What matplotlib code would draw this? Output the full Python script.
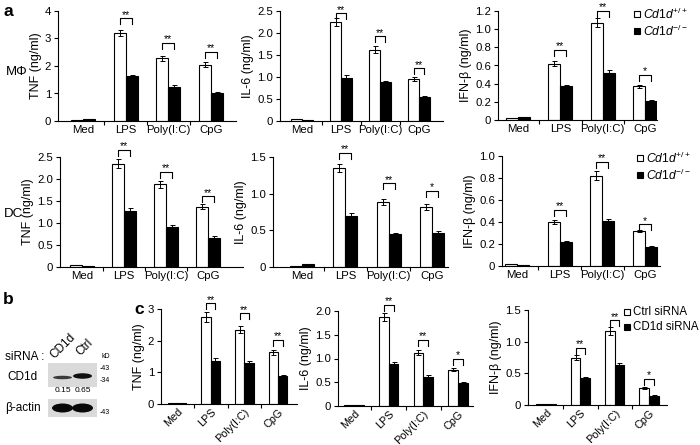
import numpy as np
import matplotlib
matplotlib.use("Agg")
import matplotlib.pyplot as plt
from matplotlib.patches import Rectangle, Ellipse
from matplotlib.lines import Line2D

plt.rcParams['font.family'] = ['Liberation Sans', 'DejaVu Sans']
plt.rcParams['mathtext.fontset'] = 'custom'
plt.rcParams['mathtext.rm'] = 'Liberation Sans'
plt.rcParams['mathtext.it'] = 'Liberation Sans:italic'
plt.rcParams['axes.linewidth'] = 0.8

# ---------------- data ----------------
categories = ["Med", "LPS", "Poly(I:C)", "CpG"]

# panel a, macrophages (MΦ)
mf_tnf_wt = [0.05, 3.20, 2.28, 2.05]; mf_tnf_wt_err = [0.0, 0.12, 0.10, 0.08]
mf_tnf_ko = [0.06, 1.62, 1.25, 1.02]; mf_tnf_ko_err = [0.0, 0.07, 0.05, 0.03]
mf_il6_wt = [0.05, 2.25, 1.62, 0.95]; mf_il6_wt_err = [0.0, 0.10, 0.08, 0.05]
mf_il6_ko = [0.02, 0.98, 0.88, 0.55]; mf_il6_ko_err = [0.0, 0.07, 0.04, 0.02]
mf_ifn_wt = [0.02, 0.62, 1.07, 0.37]; mf_ifn_wt_err = [0.0, 0.03, 0.05, 0.015]
mf_ifn_ko = [0.03, 0.37, 0.52, 0.21]; mf_ifn_ko_err = [0.0, 0.015, 0.03, 0.012]

# panel a, dendritic cells (DC)
dc_tnf_wt = [0.04, 2.35, 1.88, 1.37]; dc_tnf_wt_err = [0.0, 0.10, 0.08, 0.06]
dc_tnf_ko = [0.03, 1.28, 0.90, 0.67]; dc_tnf_ko_err = [0.0, 0.07, 0.05, 0.03]
dc_il6_wt = [0.02, 1.35, 0.89, 0.82]; dc_il6_wt_err = [0.0, 0.06, 0.04, 0.04]
dc_il6_ko = [0.04, 0.69, 0.45, 0.46]; dc_il6_ko_err = [0.0, 0.04, 0.02, 0.03]
dc_ifn_wt = [0.02, 0.40, 0.82, 0.32]; dc_ifn_wt_err = [0.0, 0.02, 0.04, 0.01]
dc_ifn_ko = [0.01, 0.22, 0.41, 0.17]; dc_ifn_ko_err = [0.0, 0.01, 0.02, 0.01]

# panel c, siRNA
si_tnf_ctrl = [0.04, 2.75, 2.35, 1.63]; si_tnf_ctrl_err = [0.0, 0.15, 0.12, 0.08]
si_tnf_cd1d = [0.03, 1.37, 1.30, 0.88]; si_tnf_cd1d_err = [0.0, 0.07, 0.05, 0.05]
si_il6_ctrl = [0.02, 1.87, 1.12, 0.76]; si_il6_ctrl_err = [0.0, 0.08, 0.05, 0.03]
si_il6_cd1d = [0.02, 0.89, 0.62, 0.48]; si_il6_cd1d_err = [0.0, 0.04, 0.03, 0.03]
si_ifn_ctrl = [0.02, 0.75, 1.17, 0.27]; si_ifn_ctrl_err = [0.0, 0.04, 0.06, 0.01]
si_ifn_cd1d = [0.01, 0.43, 0.63, 0.15]; si_ifn_cd1d_err = [0.0, 0.02, 0.04, 0.01]

sig_mf_tnf = ["", "**", "**", "**"]
sig_mf_il6 = ["", "**", "**", "**"]
sig_mf_ifn = ["", "**", "**", "*"]
sig_dc_tnf = ["", "**", "**", "**"]
sig_dc_il6 = ["", "**", "**", "*"]
sig_dc_ifn = ["", "**", "**", "*"]
sig_si_tnf = ["", "**", "**", "**"]
sig_si_il6 = ["", "**", "**", "*"]
sig_si_ifn = ["", "**", "**", "*"]

yt_tnf4 = [0, 1, 2, 3, 4]; yl_tnf4 = ["0", "1", "2", "3", "4"]
yt_25 = [0, 0.5, 1.0, 1.5, 2.0, 2.5]; yl_25 = ["0", "0.5", "1.0", "1.5", "2.0", "2.5"]
yt_12 = [0, 0.2, 0.4, 0.6, 0.8, 1.0, 1.2]; yl_12 = ["0", "0.2", "0.4", "0.6", "0.8", "1.0", "1.2"]
yt_15 = [0, 0.5, 1.0, 1.5]; yl_15 = ["0", "0.5", "1.0", "1.5"]
yt_10 = [0, 0.2, 0.4, 0.6, 0.8, 1.0]; yl_10 = ["0", "0.2", "0.4", "0.6", "0.8", "1.0"]
yt_3 = [0, 1, 2, 3]; yl_3 = ["0", "1", "2", "3"]
yt_20 = [0, 0.5, 1.0, 1.5, 2.0]; yl_20 = ["0", "0.5", "1.0", "1.5", "2.0"]

blot_ratio = ["0.15", "0.65"]

# annotation layout: height (data units) of each significance bracket
br_mf_tnf = [0, 3.73, 2.85, 2.52]
br_mf_il6 = [0, 2.45, 1.93, 1.20]
br_mf_ifn = [0, 0.77, 1.20, 0.50]
br_dc_tnf = [0, 2.66, 2.17, 1.61]
br_dc_il6 = [0, 1.56, 1.14, 1.04]
br_dc_ifn = [0, 0.51, 0.95, 0.38]
br_si_tnf = [0, 3.18, 2.86, 2.02]
br_si_il6 = [0, 2.13, 1.39, 0.99]
br_si_ifn = [0, 0.90, 1.34, 0.41]

# ---------------- figure ----------------
W, H = 700, 445
FS = 8.2
FSL = 9
fig = plt.figure(figsize=(W / 100, H / 100), dpi=100)


def make_ax(x0, top, bottom, right, med_px, cpg_px):
    ax = fig.add_axes([x0 / W, 1 - bottom / H, (right - x0) / W, (bottom - top) / H])
    unit = (cpg_px - med_px) / 3.0
    ax.set_xlim(-(med_px - x0) / unit, 3 + (right - cpg_px) / unit)
    return ax


def draw_panel(ax, wt, wt_err, ko, ko_err, sig, brh, yticks, ylabels, ylabel,
               rotate=False):
    x = np.arange(len(categories))
    w = 0.28
    ax.bar(x - w / 2, wt, w, color="white", edgecolor="black", linewidth=0.8, zorder=2)
    ax.bar(x + w / 2, ko, w, color="black", edgecolor="black", linewidth=0.8, zorder=2)
    for xi, v, e in zip(x - w / 2, wt, wt_err):
        if e > 0:
            ax.errorbar(xi, v, yerr=e, color="black", capsize=1.8, lw=0.7, capthick=0.7, zorder=3)
    for xi, v, e in zip(x + w / 2, ko, ko_err):
        if e > 0:
            ax.errorbar(xi, v, yerr=e, color="black", capsize=1.8, lw=0.7, capthick=0.7, zorder=3)
    ymax = yticks[-1]
    ax.set_ylim(0, ymax)
    bbox = ax.get_position()
    px_per_unit = bbox.height * H / ymax
    leg = 6.0 / px_per_unit
    for xi, top, s in zip(x, brh, sig):
        if not s:
            continue
        ax.plot([xi - w / 2, xi - w / 2, xi + w / 2, xi + w / 2],
                [top - leg, top, top, top - leg], color="black", lw=0.8, clip_on=False)
        ax.text(xi, top - 1.5 / px_per_unit, s, ha="center", va="bottom", fontsize=7.5, clip_on=False)
    ax.set_yticks(yticks)
    ax.set_yticklabels(ylabels, fontsize=FS)
    ax.set_ylabel(ylabel, fontsize=FSL, labelpad=2)
    ax.spines["top"].set_visible(False)
    ax.spines["right"].set_visible(False)
    ax.tick_params(axis="y", direction="out", length=3, width=0.8, pad=2)
    ax.set_xticks(x)
    if rotate:
        ax.set_xticklabels(categories, rotation=45, ha="right", rotation_mode="anchor", fontsize=7.8)
        ax.tick_params(axis="x", length=0, pad=2)
    else:
        ax.set_xticklabels(categories, fontsize=FS)
        ax.tick_params(axis="x", length=0, pad=3)
    ax.set_xticks(x[:-1] + 0.5, minor=True)
    ax.tick_params(axis="x", which="minor", direction="out", length=3, width=0.8)


# Row 1 (MΦ)
a = make_ax(58, 11, 121, 236, 83, 211)
draw_panel(a, mf_tnf_wt, mf_tnf_wt_err, mf_tnf_ko, mf_tnf_ko_err, sig_mf_tnf, br_mf_tnf, yt_tnf4, yl_tnf4, "TNF (ng/ml)")
a = make_ax(280, 11, 121, 443, 302, 419)
draw_panel(a, mf_il6_wt, mf_il6_wt_err, mf_il6_ko, mf_il6_ko_err, sig_mf_il6, br_mf_il6, yt_25, yl_25, "IL-6 (ng/ml)")
a = make_ax(498, 11, 120, 657, 518, 645)
draw_panel(a, mf_ifn_wt, mf_ifn_wt_err, mf_ifn_ko, mf_ifn_ko_err, sig_mf_ifn, br_mf_ifn, yt_12, yl_12, "IFN-β (ng/ml)")

# Row 2 (DC)
a = make_ax(60, 157, 267, 243, 82, 208)
draw_panel(a, dc_tnf_wt, dc_tnf_wt_err, dc_tnf_ko, dc_tnf_ko_err, sig_dc_tnf, br_dc_tnf, yt_25, yl_25, "TNF (ng/ml)")
a = make_ax(273, 157, 267, 448, 302, 432)
draw_panel(a, dc_il6_wt, dc_il6_wt_err, dc_il6_ko, dc_il6_ko_err, sig_dc_il6, br_dc_il6, yt_15, yl_15, "IL-6 (ng/ml)")
a = make_ax(502, 156, 266, 660, 517, 645)
draw_panel(a, dc_ifn_wt, dc_ifn_wt_err, dc_ifn_ko, dc_ifn_ko_err, sig_dc_ifn, br_dc_ifn, yt_10, yl_10, "IFN-β (ng/ml)")

# Row 3 (siRNA)
a = make_ax(161, 309, 404, 297, 177, 278)
draw_panel(a, si_tnf_ctrl, si_tnf_ctrl_err, si_tnf_cd1d, si_tnf_cd1d_err, sig_si_tnf, br_si_tnf, yt_3, yl_3, "TNF (ng/ml)", rotate=True)
a = make_ax(338, 311, 406, 473, 354, 458)
draw_panel(a, si_il6_ctrl, si_il6_ctrl_err, si_il6_cd1d, si_il6_cd1d_err, sig_si_il6, br_si_il6, yt_20, yl_20, "IL-6 (ng/ml)", rotate=True)
a = make_ax(528, 310, 405, 667, 546, 649)
draw_panel(a, si_ifn_ctrl, si_ifn_ctrl_err, si_ifn_cd1d, si_ifn_cd1d_err, sig_si_ifn, br_si_ifn, yt_15, yl_15, "IFN-β (ng/ml)", rotate=True)


def ftext(x, y, s, **kw):
    fig.text(x / W, 1 - y / H, s, **kw)


def fmark(x, y, filled):
    fig.add_artist(Line2D([x / W], [1 - y / H], marker="s", markersize=4,
                          markerfacecolor="black" if filled else "white",
                          markeredgecolor="black", markeredgewidth=0.8, linestyle="none"))


# legends
fmark(637, 14, False); ftext(643, 14, r"$\mathit{Cd1d}^{+/+}$", fontsize=8.7, va="center")
fmark(637, 31, True); ftext(643, 31, r"$\mathit{Cd1d}^{-/-}$", fontsize=8.7, va="center")
fmark(640, 158, False); ftext(646, 158, r"$\mathit{Cd1d}^{+/+}$", fontsize=8.7, va="center")
fmark(640, 175, True); ftext(646, 175, r"$\mathit{Cd1d}^{-/-}$", fontsize=8.7, va="center")
fmark(627, 312, False); ftext(633, 312, "Ctrl siRNA", fontsize=8.3, va="center")
fmark(627, 327, True); ftext(633, 327, "CD1d siRNA", fontsize=8.3, va="center")

# panel letters and row labels
ftext(3, 11, "a", fontsize=12.5, fontweight="bold", va="center")
ftext(3, 300, "b", fontsize=12.5, fontweight="bold", va="center")
ftext(134, 309, "c", fontsize=12.5, fontweight="bold", va="center")
ftext(6, 72, "MΦ", fontsize=9.5, va="center")
ftext(4, 214, "DC", fontsize=9.5, va="center")

# ---------------- western blot (panel b) ----------------
bax = fig.add_axes([0, 0, 1, 1])
bax.set_xlim(0, W)
bax.set_ylim(H, 0)
bax.axis("off")
bax.patch.set_alpha(0)
bax.add_patch(Rectangle((48, 363), 49, 24, facecolor="#dadada", edgecolor="none"))
bax.add_patch(Ellipse((62.5, 377.5), 19, 3.5, facecolor="#3a3a3a", edgecolor="none"))
bax.add_patch(Ellipse((82.5, 376), 19, 5.5, facecolor="#111111", edgecolor="none"))
bax.add_patch(Rectangle((48, 399), 49, 18, facecolor="#dadada", edgecolor="none"))
bax.add_patch(Ellipse((62.5, 408), 21, 9, facecolor="#080808", edgecolor="none"))
bax.add_patch(Ellipse((82.5, 408), 21, 9, facecolor="#080808", edgecolor="none"))
bax.text(5, 357, "siRNA :", fontsize=8.5, va="center", ha="left")
bax.text(63, 346, "CD1d", fontsize=8.5, rotation=45, ha="center", va="center")
bax.text(85, 347, "Ctrl", fontsize=8.5, rotation=45, ha="center", va="center")
bax.text(101, 357, "kD", fontsize=5, va="center")
bax.text(100, 369, "-43", fontsize=5, va="center")
bax.text(100, 381, "-34", fontsize=5, va="center")
bax.text(100, 413, "-43", fontsize=5, va="center")
bax.text(7, 377, "CD1d", fontsize=8.5, va="center")
bax.text(62.5, 391, blot_ratio[0], fontsize=6, va="center", ha="center")
bax.text(82.5, 391, blot_ratio[1], fontsize=6, va="center", ha="center")
bax.text(5, 408, "β-actin", fontsize=8.5, va="center")

fig.savefig("out.png", dpi=100)
